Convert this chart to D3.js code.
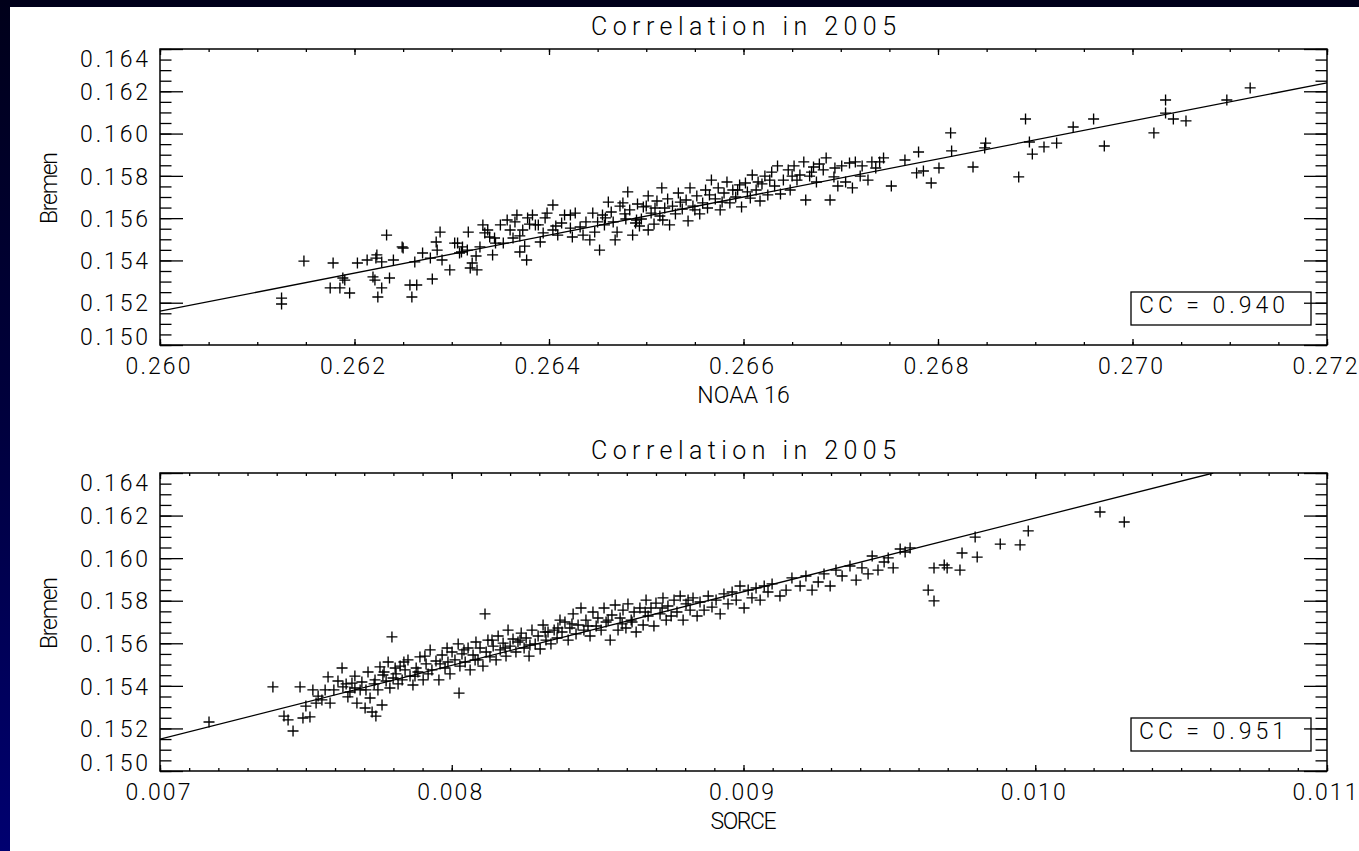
<!DOCTYPE html>
<html><head><meta charset="utf-8">
<script src="https://cdn.jsdelivr.net/npm/d3@7"></script>
<style>body{margin:0;overflow:hidden;background:#fff}svg{display:block}</style>
</head><body>
<svg id="chart" width="1359" height="851"></svg>
<script>
// ---------------- DATA ----------------
const titles = ["Correlation in 2005", "Correlation in 2005"];
const xTitles = ["NOAA 16", "SORCE"];
const yTitle = "Bremen";
const ccLabels = ["CC = 0.940", "CC = 0.951"];

const xTicksTop = [0.260, 0.262, 0.264, 0.266, 0.268, 0.270, 0.272];
const xTicksBottom = [0.007, 0.008, 0.009, 0.010, 0.011];
const yTicks = [0.150, 0.152, 0.154, 0.156, 0.158, 0.160, 0.162, 0.164];

// regression lines (end points)
const fitTop = [[0.260, 0.1516], [0.272, 0.1624]];
const fitBottom = [[0.007, 0.1515], [0.01061, 0.1640]];

// NOAA 16 vs Bremen
const noaa16VsBremen = [
[0.26125,0.15222],[0.26125,0.15194],[0.26148,0.15397],[0.26178,0.15388],[0.26175,0.15270],[0.26185,0.15270],
[0.26188,0.15317],[0.26190,0.15307],[0.26195,0.15246],[0.26203,0.15388],[0.26213,0.15402],[0.26223,0.15426],
[0.26222,0.15411],[0.26228,0.15393],[0.26219,0.15322],[0.26221,0.15307],[0.26228,0.15270],[0.26224,0.15227],
[0.26236,0.15317],[0.26233,0.15520],[0.26240,0.15402],[0.26249,0.15464],[0.26250,0.15459],[0.26257,0.15284],
[0.26259,0.15227],[0.26262,0.15393],[0.26264,0.15284],[0.26270,0.15435],[0.26278,0.15411],[0.26280,0.15312],
[0.26284,0.15487],[0.26285,0.15449],[0.26288,0.15534],[0.26290,0.15402],[0.26298,0.15355],[0.26303,0.15482],
[0.26311,0.15464],[0.26317,0.15534],[0.26316,0.15449],[0.26319,0.15364],[0.26321,0.15388],[0.26326,0.15355],
[0.26329,0.15464],[0.26332,0.15568],[0.26334,0.15530],[0.26339,0.15511],[0.26342,0.15426],[0.26350,0.15568],
[0.26353,0.15482],[0.26357,0.15591],[0.26360,0.15544],[0.26363,0.15506],[0.26367,0.15615],[0.26370,0.15440],
[0.26377,0.15402],[0.26383,0.15615],[0.26386,0.15568],[0.26391,0.15487],[0.26394,0.15530],[0.26398,0.15624],
[0.26404,0.15662],[0.26404,0.15544],[0.26413,0.15577],[0.26416,0.15615],[0.26424,0.15511],[0.26427,0.15624],
[0.26432,0.15558],[0.26435,0.15520],[0.26452,0.15449],[0.26455,0.15615],[0.26461,0.15676],[0.26466,0.15582],
[0.26468,0.15497],[0.26470,0.15534],[0.26476,0.15672],[0.26483,0.15639],[0.26486,0.15520],[0.26490,0.15591],
[0.26497,0.15653],[0.26502,0.15544],
[0.26407,0.15563],[0.26422,0.15615],[0.26442,0.15497],[0.26445,0.15624],[0.26450,0.15582],[0.26458,0.15601],
[0.26473,0.15657],[0.26479,0.15596],[0.26481,0.15724],[0.26489,0.15577],[0.26491,0.15667],[0.26495,0.15596],
[0.26500,0.15657],[0.26502,0.15705],[0.26370,0.15516],[0.26375,0.15468],[0.26380,0.15572],[0.26345,0.15482],
[0.26308,0.15435],[0.26325,0.15421],
[0.26505,0.15624],[0.26508,0.15572],[0.26511,0.15681],[0.26514,0.15610],[0.26516,0.15743],[0.26519,0.15648],
[0.26522,0.15691],[0.26524,0.15568],[0.26527,0.15657],[0.26530,0.15620],[0.26533,0.15719],[0.26537,0.15643],
[0.26541,0.15686],[0.26543,0.15587],[0.26545,0.15743],[0.26548,0.15657],[0.26552,0.15705],[0.26555,0.15620],
[0.26558,0.15672],[0.26561,0.15733],[0.26563,0.15648],[0.26567,0.15780],[0.26571,0.15691],[0.26574,0.15743],
[0.26576,0.15639],[0.26580,0.15719],[0.26583,0.15771],[0.26586,0.15672],[0.26589,0.15733],[0.26592,0.15700],
[0.26596,0.15757],[0.26598,0.15653],[0.26602,0.15766],[0.26607,0.15695],[0.26609,0.15804],[0.26613,0.15733],
[0.26617,0.15681],[0.26619,0.15762],[0.26622,0.15799],[0.26625,0.15710],[0.26629,0.15818],[0.26632,0.15752],
[0.26635,0.15847],[0.26638,0.15714],[0.26641,0.15780],[0.26646,0.15828],[0.26648,0.15733],[0.26652,0.15847],
[0.26655,0.15780],[0.26658,0.15804],[0.26662,0.15866],[0.26664,0.15686],[0.26668,0.15799],[0.26672,0.15842],
[0.26675,0.15771],[0.26678,0.15856],[0.26682,0.15828],[0.26685,0.15885],[0.26689,0.15686],[0.26693,0.15795],
[0.26697,0.15752],[0.26701,0.15847],[0.26705,0.15771],[0.26709,0.15861],[0.26712,0.15743],[0.26715,0.15866],
[0.26722,0.15847],[0.26728,0.15780],[0.26732,0.15866],[0.26736,0.15837],[0.26740,0.15866],[0.26744,0.15885],
[0.26752,0.15752],
[0.26306,0.15482],[0.26310,0.15440],[0.26337,0.15544],[0.26344,0.15506],[0.26365,0.15582],[0.26373,0.15544],
[0.26378,0.15601],[0.26389,0.15568],[0.26396,0.15601],[0.26409,0.15520],[0.26422,0.15553],[0.26438,0.15582],
[0.26447,0.15534],[0.26457,0.15568],[0.26464,0.15629],[0.26478,0.15620],[0.26493,0.15563],[0.26509,0.15648],
[0.26517,0.15591],[0.26535,0.15676],[0.26550,0.15639],[0.26565,0.15710],[0.26578,0.15676],[0.26594,0.15733],
[0.26604,0.15724],[0.26615,0.15771],[0.26627,0.15780],[0.26650,0.15799],[0.26670,0.15818],[0.26694,0.15837],
[0.26720,0.15799],
[0.26766,0.15875],[0.26780,0.15913],[0.26778,0.15814],[0.26785,0.15823],[0.26793,0.15766],[0.26801,0.15837],
[0.26813,0.16003],[0.26814,0.15918],[0.26836,0.15842],[0.26849,0.15955],[0.26848,0.15932],[0.26883,0.15795],
[0.26890,0.16069],[0.26894,0.15960],[0.26897,0.15903],[0.26909,0.15937],[0.26922,0.15955],[0.26939,0.16031],
[0.26960,0.16069],[0.26971,0.15941],[0.27022,0.16003],[0.27034,0.16097],[0.27034,0.16159],[0.27042,0.16069],
[0.27055,0.16060],[0.27097,0.16159],[0.27121,0.16216]
];

// SORCE vs Bremen
const sorceVsBremen = [
[0.007168,0.15230],[0.007387,0.15395],[0.007425,0.15258],[0.007439,0.15240],[0.007456,0.15188],[0.007480,0.15395],
[0.007490,0.15249],[0.007500,0.15305],[0.007514,0.15254],[0.007524,0.15381],[0.007535,0.15319],[0.007542,0.15352],
[0.007555,0.15334],[0.007566,0.15381],[0.007576,0.15442],[0.007583,0.15319],[0.007596,0.15381],[0.007610,0.15423],
[0.007624,0.15484],[0.007627,0.15395],[0.007638,0.15409],[0.007644,0.15348],[0.007651,0.15371],[0.007658,0.15413],
[0.007668,0.15446],[0.007675,0.15319],[0.007686,0.15381],[0.007692,0.15418],[0.007703,0.15296],[0.007713,0.15465],
[0.007720,0.15343],[0.007727,0.15277],[0.007737,0.15428],[0.007740,0.15258],[0.007747,0.15381],[0.007754,0.15489],
[0.007761,0.15310],[0.007764,0.15451],[0.007775,0.15423],[0.007782,0.15512],[0.007788,0.15390],[0.007795,0.15630],
[0.007799,0.15437],[0.007809,0.15456],[0.007816,0.15409],[0.007823,0.15493],[0.007830,0.15428],[0.007840,0.15475],
[0.007850,0.15522],[0.007857,0.15446],[0.007867,0.15404],[0.007878,0.15484],[0.007884,0.15465],[0.007891,0.15536],
[0.007902,0.15428],[0.007912,0.15503],[0.007919,0.15456],[0.007926,0.15569],[0.007932,0.15475],[0.007946,0.15517],
[0.007956,0.15428],[0.007967,0.15545],[0.007977,0.15484],[0.007987,0.15512],[0.007994,0.15456],[0.008001,0.15559],
[0.008011,0.15522],[0.008022,0.15597],[0.008025,0.15366],[0.008028,0.15493],[0.008035,0.15550],[0.008046,0.15512],
[0.008056,0.15578],[0.008063,0.15475],[0.008073,0.15545],[0.008083,0.15606],[0.008090,0.15522],[0.008097,0.15578],
[0.008107,0.15493],[0.008114,0.15738],[0.008118,0.15559],[0.008124,0.15615],[0.008131,0.15536],[0.008142,0.15587],
[0.008152,0.15522],[0.008159,0.15634],[0.008166,0.15569],[0.008176,0.15601],[0.008186,0.15540],[0.008193,0.15662],
[0.008200,0.15587],[0.008210,0.15620],[0.008220,0.15559],[0.008227,0.15606],[0.008238,0.15648],[0.008248,0.15578],
[0.008255,0.15625],[0.008265,0.15540],[0.008275,0.15662],[0.008286,0.15597],[0.008296,0.15634],[0.008303,0.15573],
[0.008313,0.15686],[0.008323,0.15615],[0.008330,0.15653],[0.008340,0.15597],[0.008351,0.15662],[0.008361,0.15625],
[0.008371,0.15709],[0.008378,0.15653],[0.008388,0.15700],[0.008399,0.15615],[0.008405,0.15672],[0.008416,0.15738],
[0.008426,0.15644],[0.008433,0.15686],[0.008443,0.15766],[0.008453,0.15662],[0.008460,0.15709],[0.008474,0.15634],
[0.008484,0.15747],[0.008495,0.15681],[0.008501,0.15719],[0.008512,0.15662],[0.008522,0.15766],[0.008529,0.15700],
[0.008543,0.15615],[0.008549,0.15733],[0.008560,0.15780],[0.008570,0.15662],[0.008577,0.15719],[0.008587,0.15756],
[0.008597,0.15672],[0.008604,0.15785],[0.008615,0.15709],[0.008625,0.15747],[0.008632,0.15653],[0.008645,0.15766],
[0.008656,0.15686],[0.008666,0.15803],[0.008673,0.15728],[0.008683,0.15766],[0.008693,0.15681],[0.008700,0.15789],
[0.008714,0.15738],[0.008724,0.15813],[0.008735,0.15709],[0.008741,0.15775],[0.008752,0.15728],[0.008762,0.15803],
[0.008772,0.15747],[0.008783,0.15822],[0.008793,0.15709],[0.008803,0.15785],[0.008817,0.15756],[0.008827,0.15813],
[0.008841,0.15728],[0.008851,0.15794],[0.008865,0.15756],[0.008879,0.15822],[0.008892,0.15770],[0.008906,0.15803],
[0.008920,0.15738],[0.008933,0.15832],[0.008947,0.15785],[0.008961,0.15841],[0.008975,0.15803],[0.008988,0.15869],
[0.009002,0.15766],[0.009016,0.15850],[0.009029,0.15813],[0.009043,0.15860],[0.009057,0.15803],[0.009071,0.15869],
[0.009084,0.15841],[0.009098,0.15879],[0.009125,0.15822],[0.009146,0.15850],[0.009166,0.15907],[0.009194,0.15869],
[0.009214,0.15916],[0.009235,0.15850],[0.009256,0.15888],[0.009276,0.15926],[0.009297,0.15869],[0.009317,0.15944],
[0.009338,0.15916],[0.009365,0.15963],[0.009386,0.15897],[0.009406,0.15954],[0.009427,0.15926],[0.009441,0.16010],
[0.009461,0.15944],[0.009482,0.15982],[0.009496,0.16001],[0.009513,0.15954],[0.009537,0.16043],[0.009554,0.16029],
[0.009571,0.16048],[0.009633,0.15850],[0.009653,0.15799],[0.009653,0.15954],[0.009688,0.15968],[0.009698,0.15954],
[0.009742,0.15944],[0.009749,0.16024],[0.009801,0.16005],[0.009794,0.16099],[0.009880,0.16066],[0.009948,0.16062],
[0.009976,0.16128],[0.010222,0.16217],[0.010305,0.16170],
[0.007668,0.15390],[0.007706,0.15381],[0.007734,0.15409],[0.007768,0.15465],[0.007806,0.15484],[0.007836,0.15512],
[0.007874,0.15446],[0.007908,0.15540],[0.007960,0.15503],[0.007984,0.15578],[0.008042,0.15569],[0.008080,0.15522],
[0.008138,0.15615],[0.008183,0.15578],[0.008234,0.15615],[0.008268,0.15592],[0.008320,0.15653],[0.008364,0.15672],
[0.008412,0.15691],[0.008467,0.15681],[0.008536,0.15709],[0.008584,0.15691],[0.008618,0.15700],[0.008663,0.15747],
[0.008721,0.15766],[0.008810,0.15803]
];

// ---------------- DRAWING ----------------
const W = 1359, H = 851;
const FONT = "Roboto, 'Liberation Sans', Arial, sans-serif";
const svg = d3.select("#chart");
const defs = svg.append("defs");
const grad = defs.append("linearGradient").attr("id", "bg")
  .attr("x1", 0).attr("y1", 0).attr("x2", 0).attr("y2", 1);
grad.append("stop").attr("offset", "0%").attr("stop-color", "#00001a");
grad.append("stop").attr("offset", "50%").attr("stop-color", "#00003e");
grad.append("stop").attr("offset", "100%").attr("stop-color", "#000070");
svg.append("rect").attr("width", W).attr("height", H).attr("fill", "url(#bg)");
svg.append("rect").attr("x", 10).attr("y", 7).attr("width", W - 10).attr("height", H - 7).attr("fill", "#fff");

const left = 160, right = 1327;
const panels = [
  {top: 49, bottom: 345, xDomain: [0.260, 0.272], xTicks: xTicksTop, minorStep: 0.0005,
   data: noaa16VsBremen, fit: fitTop, title: titles[0], xTitle: xTitles[0], cc: ccLabels[0]},
  {top: 473, bottom: 771, xDomain: [0.007, 0.011], xTicks: xTicksBottom, minorStep: 0.0001,
   data: sorceVsBremen, fit: fitBottom, title: titles[1], xTitle: xTitles[1], cc: ccLabels[1]}
];
const fmt = d3.format(".3f");
const yMinor = d3.range(0, 29).map(i => 0.150 + i * 0.0005);

function styleAxis(g) {
  g.select(".domain").remove();
  g.selectAll("line").attr("stroke", "#000").attr("stroke-width", 1.3);
  g.attr("font-family", FONT).attr("font-size", 23).attr("font-weight", 300);
  g.selectAll("text").attr("fill", "#000");
}

panels.forEach((p, i) => {
  const x = d3.scaleLinear().domain(p.xDomain).range([left, right]);
  const y = d3.scaleLinear().domain([0.150, 0.164]).range([p.bottom, p.top]);
  const n = Math.round((p.xDomain[1] - p.xDomain[0]) / p.minorStep);
  const xMinor = d3.range(0, n + 1).map(k => p.xDomain[0] + k * p.minorStep);
  const g = svg.append("g");

  defs.append("clipPath").attr("id", "clip" + i).append("rect")
    .attr("x", left).attr("y", p.top).attr("width", right - left).attr("height", p.bottom - p.top);

  // CC box
  const bx = right - 16, by = p.bottom - 20;
  g.append("rect").attr("x", bx - 180).attr("y", by - 33).attr("width", 180).attr("height", 33)
    .attr("fill", "#fff").attr("stroke", "#000").attr("stroke-width", 1.3);
  g.append("text").attr("x", bx - 172).attr("y", by - 12)
    .attr("font-family", FONT).attr("font-size", 23).attr("font-weight", 300)
    .attr("textLength", 146).attr("lengthAdjust", "spacing").text(p.cc);

  // data
  const plot = g.append("g").attr("clip-path", `url(#clip${i})`);
  plot.append("path").datum(p.fit)
    .attr("d", d3.line().x(d => x(d[0])).y(d => y(d[1])))
    .attr("fill", "none").attr("stroke", "#000").attr("stroke-width", 1.3);
  plot.selectAll("path.pt").data(p.data).join("path").attr("class", "pt")
    .attr("transform", d => `translate(${x(d[0])},${y(d[1])})`)
    .attr("d", "M-5.5,0H5.5M0,-5.5V5.5")
    .attr("stroke", "#000").attr("stroke-width", 1.35).attr("fill", "none");

  // axes: minor ticks
  g.append("g").attr("transform", `translate(0,${p.bottom})`)
    .call(d3.axisBottom(x).tickValues(xMinor).tickSize(-3).tickFormat("")).call(styleAxis);
  g.append("g").attr("transform", `translate(0,${p.top})`)
    .call(d3.axisTop(x).tickValues(xMinor).tickSize(-3).tickFormat("")).call(styleAxis);
  g.append("g").attr("transform", `translate(${left},0)`)
    .call(d3.axisLeft(y).tickValues(yMinor).tickSize(-11.5).tickFormat("")).call(styleAxis);
  g.append("g").attr("transform", `translate(${right},0)`)
    .call(d3.axisRight(y).tickValues(yMinor).tickSize(-11.5).tickFormat("")).call(styleAxis);

  // major ticks + labels
  const xb = g.append("g").attr("transform", `translate(0,${p.bottom})`)
    .call(d3.axisBottom(x).tickValues(p.xTicks).tickSize(-6).tickFormat(fmt)).call(styleAxis);
  xb.selectAll("text").attr("x", -2.5).attr("y", 29).attr("dy", null)
    .attr("textLength", 65).attr("lengthAdjust", "spacing");
  g.append("g").attr("transform", `translate(0,${p.top})`)
    .call(d3.axisTop(x).tickValues(p.xTicks).tickSize(-6).tickFormat("")).call(styleAxis);
  const yl = g.append("g").attr("transform", `translate(${left},0)`)
    .call(d3.axisLeft(y).tickValues(yTicks).tickSize(-23).tickFormat(fmt)).call(styleAxis);
  yl.selectAll("text").attr("x", -12).attr("dy", "0.36em")
    .attr("y", d => d === 0.150 ? -9 : (d === 0.164 ? 9 : 0))
    .attr("textLength", 68).attr("lengthAdjust", "spacing");
  g.append("g").attr("transform", `translate(${right},0)`)
    .call(d3.axisRight(y).tickValues(yTicks).tickSize(-23).tickFormat("")).call(styleAxis);

  // frame
  g.append("rect").attr("x", left).attr("y", p.top).attr("width", right - left).attr("height", p.bottom - p.top)
    .attr("fill", "none").attr("stroke", "#000").attr("stroke-width", 1.5);

  // titles
  g.append("text").attr("x", (left + right) / 2).attr("y", p.top - 14)
    .attr("text-anchor", "middle").attr("font-family", FONT).attr("font-size", 25).attr("font-weight", 300)
    .attr("textLength", 305).attr("lengthAdjust", "spacing").text(p.title);
  g.append("text").attr("x", (left + right) / 2).attr("y", p.bottom + 58)
    .attr("text-anchor", "middle").attr("font-family", FONT).attr("font-size", 23).attr("font-weight", 300)
    .attr("textLength", p.xTitle.length * 13.2).attr("lengthAdjust", "spacing").text(p.xTitle);
  g.append("text").attr("transform", `translate(57,${(p.top + p.bottom) / 2 - 9}) rotate(-90)`)
    .attr("text-anchor", "middle").attr("font-family", FONT).attr("font-size", 23).attr("font-weight", 300)
    .attr("textLength", 72).attr("lengthAdjust", "spacing").text(yTitle);
});
</script>
</body></html>
